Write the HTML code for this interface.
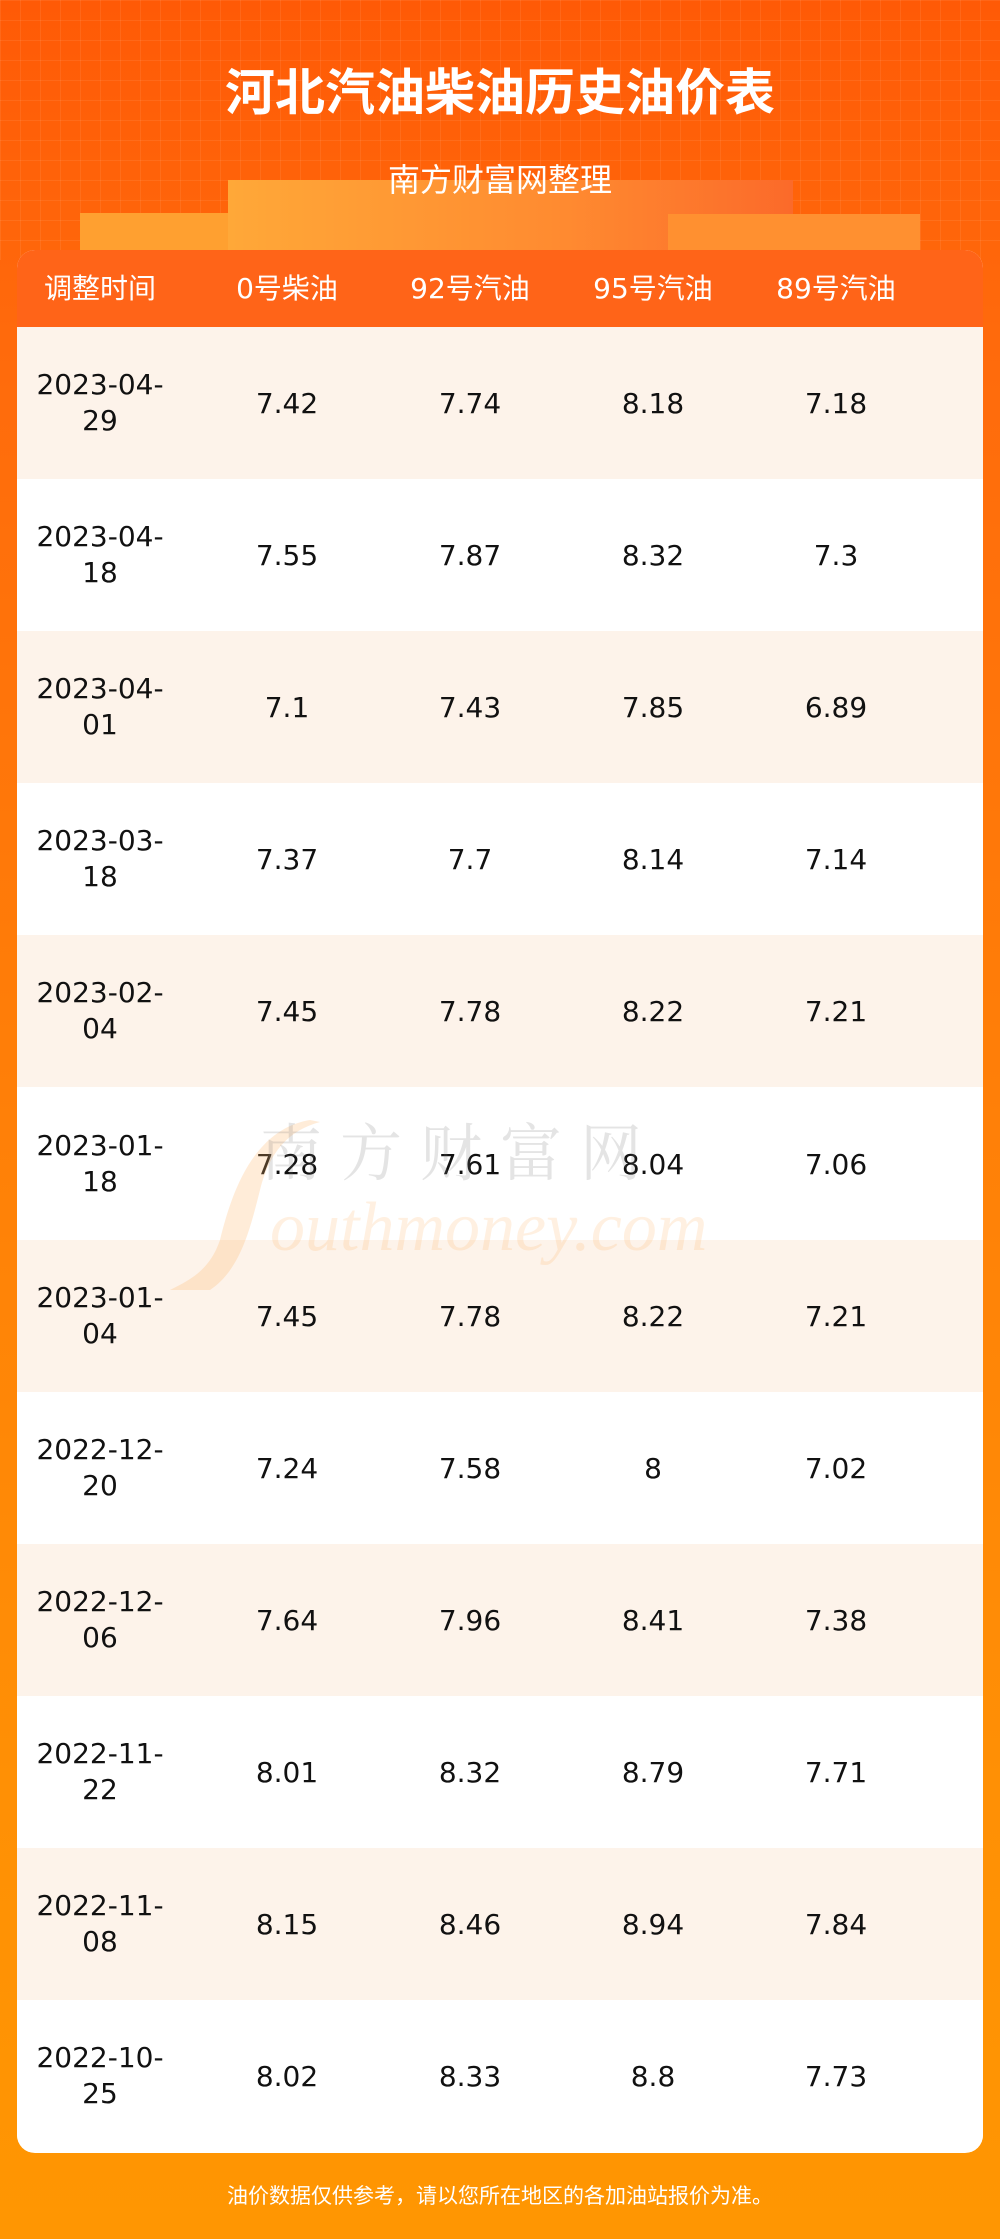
<!DOCTYPE html>
<html><head><meta charset="utf-8"><style>
html,body{margin:0;padding:0}
body{width:1000px;height:2239px;position:relative;overflow:hidden;font-family:"DejaVu Sans","Noto Sans CJK SC",sans-serif;background:linear-gradient(180deg,#ff5a06 0%,#ff6a0c 15%,#ff7d08 45%,#ff9005 80%,#ff9602 100%)}
.grid{position:absolute;left:0;top:0;width:1000px;height:260px;background-image:linear-gradient(rgba(255,255,255,.07) 1px,transparent 1px),linear-gradient(90deg,rgba(255,255,255,.07) 1px,transparent 1px);background-size:20px 20px}
.title{position:absolute;top:58px;width:1000px;text-align:center;color:#fff;font-weight:bold;font-size:50px;line-height:62px;font-family:"Noto Sans CJK SC",sans-serif}
.sub{position:absolute;top:158px;width:1000px;text-align:center;color:#fff;font-size:32px;line-height:40px;z-index:2;font-family:"Noto Sans CJK SC",sans-serif}
.box{position:absolute}
.card{position:absolute;left:17px;top:250px;width:966px;height:1903px;border-radius:18px;overflow:hidden;background:#fff}
.hdr{position:absolute;left:0;top:0;width:966px;height:77px;background:#ff6418}
.hcell{position:absolute;top:0;height:77px;line-height:77px;color:#fff;font-size:28px;text-align:center;width:180px}
.row{position:absolute;left:0;width:966px}
.cell{position:absolute;text-align:center;width:180px;font-size:28px;color:#111;line-height:36px}
.wm{position:absolute;pointer-events:none}
.foot{position:absolute;top:2180px;width:1000px;text-align:center;color:#fff;font-size:21px;line-height:30px;font-family:"Noto Sans CJK SC",sans-serif}
</style></head><body>
<div class="grid"></div>
<div class="box" style="left:80px;top:213px;width:255px;height:40px;background:#ffa030"></div>
<div class="box" style="left:228px;top:180px;width:565px;height:73px;background:linear-gradient(90deg,#ffa838,#ff8a30 60%,#fb6a2a)"></div>
<div class="box" style="left:668px;top:214px;width:252px;height:39px;background:#ff9030"></div>
<div class="title">河北汽油柴油历史油价表</div>
<div class="sub">南方财富网整理</div>
<div class="card">
 <div class="hdr">
  <div class="hcell" style="left:-7px">调整时间</div>
  <div class="hcell" style="left:180px">0号柴油</div>
  <div class="hcell" style="left:363px">92号汽油</div>
  <div class="hcell" style="left:546px">95号汽油</div>
  <div class="hcell" style="left:729px">89号汽油</div>
 </div>
 <div id="rows"></div>
 <svg class="wm" style="left:153px;top:860px" width="680" height="180">
  <path d="M140 10 C80 20 60 90 50 130 C40 160 20 170 0 180 L40 180 C70 160 80 120 90 80 C100 40 120 20 150 12 Z" fill="rgba(255,180,100,.25)"/>
  <text x="90" y="65" font-size="62" fill="rgba(120,120,120,.2)" font-family="Noto Serif CJK SC,serif" letter-spacing="18">南方财富网</text>
  <text x="100" y="140" font-size="70" font-style="italic" fill="rgba(255,170,90,.18)" font-family="Liberation Serif,serif">outhmoney.com</text>
 </svg>
</div>
<div class="foot">油价数据仅供参考，请以您所在地区的各加油站报价为准。</div>
<script>
const dates=["2023-04-29","2023-04-18","2023-04-01","2023-03-18","2023-02-04","2023-01-18","2023-01-04","2022-12-20","2022-12-06","2022-11-22","2022-11-08","2022-10-25"];
const diesel0=["7.42","7.55","7.1","7.37","7.45","7.28","7.45","7.24","7.64","8.01","8.15","8.02"];
const gas92=["7.74","7.87","7.43","7.7","7.78","7.61","7.78","7.58","7.96","8.32","8.46","8.33"];
const gas95=["8.18","8.32","7.85","8.14","8.22","8.04","8.22","8","8.41","8.79","8.94","8.8"];
const gas89=["7.18","7.3","6.89","7.14","7.21","7.06","7.21","7.02","7.38","7.71","7.84","7.73"];
const rowsEl=document.getElementById('rows');
const RH=152.1, TOP=77;
const cols=[[diesel0,'diesel0',180],[gas92,'gas92',363],[gas95,'gas95',546],[gas89,'gas89',729]];
dates.forEach((d,i)=>{
 const r=document.createElement('div');r.className='row';
 
 
 r.style.top=(TOP+i*RH)+'px';r.style.height=RH+'px';
 r.style.background=i%2===0?'#fdf3ea':'#fff';
 const dc=document.createElement('div');dc.className='cell';
 
 
 dc.style.left='-7px';dc.style.top=(RH/2-36)+'px';
 const p=d.split('-');dc.innerHTML=p[0]+'-'+p[1]+'-<br>'+p[2];
 r.appendChild(dc);
 cols.forEach(c=>{
  const e=document.createElement('div');e.className='cell';
  
  
  e.style.left=c[2]+'px';e.style.top=(RH/2-17)+'px';
  e.textContent=c[0][i];r.appendChild(e);
 });
 rowsEl.appendChild(r);
});
</script>
</body></html>
